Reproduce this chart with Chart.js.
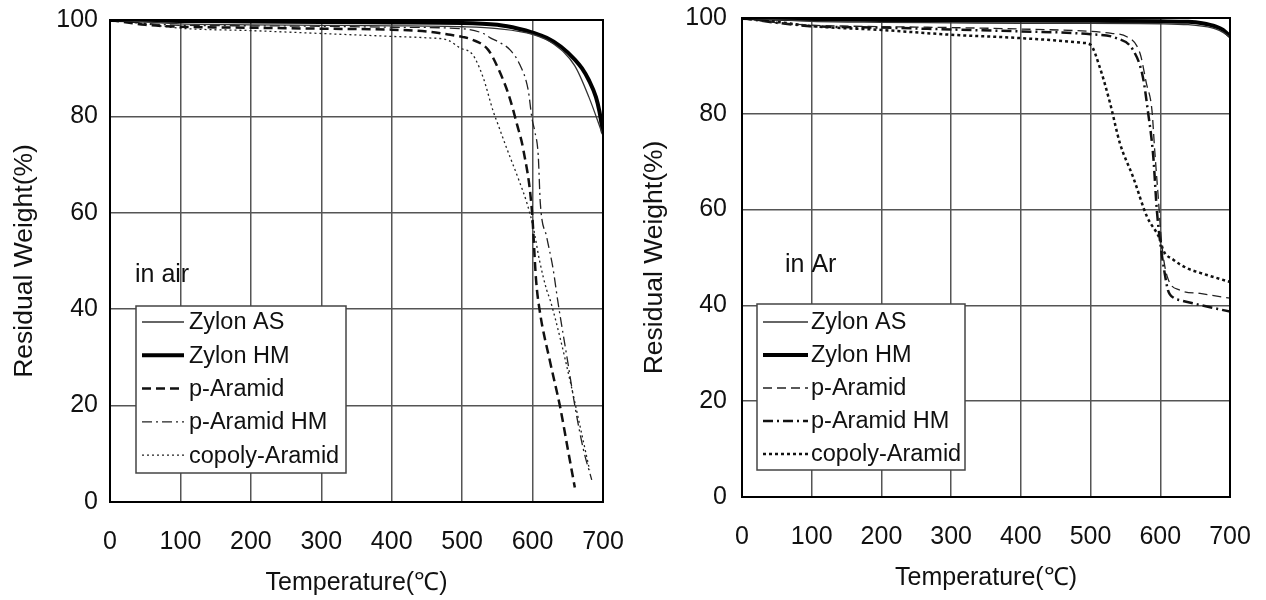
<!DOCTYPE html>
<html>
<head>
<meta charset="utf-8">
<script src="https://cdn.jsdelivr.net/npm/chart.js@4.4.0/dist/chart.umd.min.js"></script>
<style>
  html, body { margin: 0; padding: 0; background: #fff; }
  .wrap { position: absolute; top: 0; width: 633px; height: 600px; }
</style>
</head>
<body>
<div class="wrap" style="left:0"><canvas id="airChart" width="633" height="600"></canvas></div>
<div class="wrap" style="left:633px"><canvas id="arChart" width="633" height="600"></canvas></div>
<script>
const tempTicks = [0, 100, 200, 300, 400, 500, 600, 700];
const weightTicks = [0, 20, 40, 60, 80, 100];
const seriesNames = ['Zylon AS', 'Zylon HM', 'p-Aramid', 'p-Aramid HM', 'copoly-Aramid'];

// in air
const airZylonAS_T = [0, 50, 100, 200, 300, 400, 500, 550, 600, 630, 660, 680, 700];
const airZylonAS_W = [100, 99.6, 99.2, 99, 98.9, 98.8, 98.6, 98.2, 97, 95, 90.5, 84, 76];
const airZylonHM_T = [0, 100, 200, 300, 400, 500, 550, 580, 600, 620, 640, 660, 670, 680, 690, 695, 700];
const airZylonHM_W = [100, 99.8, 99.7, 99.6, 99.5, 99.4, 99, 98.2, 97.4, 96.3, 94.5, 91.8, 90, 87.5, 84, 81, 76.5];
const airPAramid_T = [0, 50, 100, 200, 300, 400, 450, 480, 500, 515, 537, 551, 566, 578, 587, 599, 605, 610, 625, 639, 650, 660];
const airPAramid_W = [100, 99, 98.6, 98.4, 98.2, 98, 97.6, 97, 96.5, 95.9, 93.8, 90, 84.5, 78.3, 73, 60.6, 46, 39.8, 29, 19.8, 11, 3];
const airPAramidHM_T = [0, 50, 100, 200, 300, 400, 500, 530, 540, 555, 568, 582, 594, 599, 603, 608, 611, 620, 629, 636, 650, 660, 672, 684];
const airPAramidHM_W = [100, 99.3, 98.9, 98.8, 98.7, 98.5, 98.2, 97.2, 96.3, 95.2, 93.8, 90.7, 85.3, 79.7, 77, 72, 62, 55, 48.5, 41.5, 29, 20, 11, 4.6];
const airCopoly_T = [0, 50, 100, 200, 300, 400, 450, 480, 497, 515, 530, 544, 551, 563, 580, 592, 601, 610, 620, 625, 640, 653, 667, 681];
const airCopoly_W = [100, 99.2, 98.3, 97.8, 97.2, 96.6, 96.3, 95.8, 94.2, 92.8, 88, 81.1, 78.3, 73.5, 67, 62, 57, 50, 44, 41.9, 33.5, 25.3, 16, 6.6];

// in Ar
const arZylonAS_T = [0, 100, 200, 300, 400, 500, 600, 640, 660, 680, 690, 700];
const arZylonAS_W = [100, 99.3, 99.1, 99, 98.9, 98.9, 98.8, 98.6, 98.3, 97.7, 97, 96];
const arZylonHM_T = [0, 100, 200, 300, 400, 500, 600, 640, 660, 680, 690, 700];
const arZylonHM_W = [100, 99.7, 99.6, 99.5, 99.5, 99.4, 99.3, 99.2, 98.9, 98.2, 97.5, 96.2];
const arPAramid_T = [0, 50, 100, 200, 300, 400, 500, 530, 552, 571, 580, 588, 592, 597, 602, 610, 628, 657, 700];
const arPAramid_W = [100, 99, 98.5, 98.2, 98, 97.7, 97.2, 96.8, 96.1, 92.6, 86.4, 80.8, 72.4, 62.7, 53, 46, 43.2, 42.5, 41.5];
const arPAramidHM_T = [0, 50, 100, 200, 300, 400, 500, 537, 561, 575, 582, 590, 595, 600, 606, 611, 620, 628, 657, 700];
const arPAramidHM_W = [100, 99, 98.3, 98, 97.6, 97.2, 96.6, 95.8, 93.3, 87.7, 80.8, 71, 60, 53, 47, 43.2, 41.5, 41.1, 40.1, 38.7];
const arCopoly_T = [0, 50, 100, 200, 300, 400, 490, 500, 513, 528, 542, 561, 581, 600, 604, 619, 638, 657, 700];
const arCopoly_W = [100, 99.2, 98.3, 97.5, 96.5, 95.8, 94.8, 94.4, 89.8, 82.2, 73.9, 66.8, 58.5, 53.6, 51.6, 49.5, 47.8, 46.8, 44.9];

const FONT = '"Liberation Sans", Arial, sans-serif';
const INK = '#111';

const pts = (t, w) => t.map((x, i) => ({ x: x, y: w[i] }));

// frame, note text and the boxed legend inside the plot
const insetLegend = {
  id: 'insetLegend',
  afterDatasetsDraw(chart, args, opts) {
    const { ctx, chartArea: a } = chart;
    ctx.save();
    ctx.strokeStyle = '#000';
    ctx.lineWidth = 2;
    ctx.strokeRect(a.left, a.top, a.right - a.left, a.bottom - a.top);

    ctx.font = '25px ' + FONT;
    ctx.fillStyle = INK;
    ctx.textBaseline = 'middle';
    ctx.fillText(opts.note, a.left + opts.noteX, a.top + opts.noteY);

    const bx = a.left + opts.x, by = a.top + opts.y;
    ctx.fillStyle = '#fff';
    ctx.fillRect(bx, by, opts.w, opts.h);
    ctx.strokeStyle = '#444';
    ctx.lineWidth = 1.5;
    ctx.strokeRect(bx, by, opts.w, opts.h);

    ctx.font = '23.5px ' + FONT;
    chart.data.datasets.forEach((ds, i) => {
      const y = by + opts.firstRow + i * opts.rowGap;
      ctx.beginPath();
      ctx.setLineDash(ds.borderDash || []);
      ctx.lineWidth = ds.borderWidth;
      ctx.strokeStyle = ds.borderColor;
      ctx.moveTo(bx + opts.sampleX, y);
      ctx.lineTo(bx + opts.sampleX + opts.sampleW, y);
      ctx.stroke();
      ctx.setLineDash([]);
      ctx.fillStyle = INK;
      ctx.fillText(ds.label, bx + opts.textX, y + 1);
    });
    ctx.restore();
  }
};

function makeChart(id, series, styles, box, dims) {
  const datasets = series.map((s, i) => ({
    label: seriesNames[i],
    data: pts(s[0], s[1]),
    borderColor: styles[i].color,
    borderWidth: styles[i].width,
    borderDash: styles[i].dash,
    pointRadius: 0,
    cubicInterpolationMode: 'monotone',
    fill: false
  }));
  return new Chart(document.getElementById(id), {
    type: 'line',
    data: { datasets },
    plugins: [insetLegend],
    options: {
      responsive: false,
      animation: false,
      devicePixelRatio: 1,
      layout: { padding: { top: dims.top, right: dims.right, left: 0, bottom: 0 } },
      plugins: {
        legend: { display: false },
        tooltip: { enabled: false },
        insetLegend: box
      },
      scales: {
        x: {
          type: 'linear', min: 0, max: 700,
          afterBuildTicks: s => { s.ticks = tempTicks.map(v => ({ value: v })); },
          afterFit: s => { s.height = dims.xHeight; s.paddingLeft = 0; s.paddingRight = 0; },
          ticks: { color: INK, font: { family: FONT, size: 25 }, padding: dims.xTickPad, autoSkip: false, maxRotation: 0 },
          grid: { color: '#555', lineWidth: 1.5, drawTicks: false },
          border: { display: false },
          title: { display: true, text: 'Temperature(℃)', color: INK, font: { family: FONT, size: 25 }, padding: { top: 0, bottom: dims.xTitlePad } }
        },
        y: {
          min: 0, max: 100,
          afterBuildTicks: s => { s.ticks = weightTicks.map(v => ({ value: v })); },
          afterFit: s => { s.width = dims.yWidth; s.paddingTop = 0; s.paddingBottom = 0; },
          ticks: { color: INK, font: { family: FONT, size: 25 }, padding: dims.yTickPad },
          grid: { color: '#555', lineWidth: 1.5, drawTicks: false },
          border: { display: false },
          title: { display: true, text: 'Residual Weight(%)', color: INK, font: { family: FONT, size: 26.5 }, padding: { top: dims.yTitlePad, bottom: 0 } }
        }
      }
    }
  });
}

makeChart('airChart',
  [[airZylonAS_T, airZylonAS_W], [airZylonHM_T, airZylonHM_W], [airPAramid_T, airPAramid_W],
   [airPAramidHM_T, airPAramidHM_W], [airCopoly_T, airCopoly_W]],
  [
    { color: '#333', width: 1.3, dash: [] },
    { color: '#000', width: 4, dash: [] },
    { color: '#111', width: 2.5, dash: [9, 5] },
    { color: '#222', width: 1.3, dash: [10, 4, 2, 4] },
    { color: '#222', width: 1.3, dash: [2, 3] }
  ],
  { note: 'in air', noteX: 25, noteY: 255, x: 26, y: 286, w: 210, h: 167,
    firstRow: 16, rowGap: 33.3, sampleX: 6, sampleW: 42, textX: 53 },
  { top: 20, right: 30, xHeight: 98, xTickPad: 25, xTitlePad: 2, yWidth: 110, yTickPad: 12, yTitlePad: 9 }
);

makeChart('arChart',
  [[arZylonAS_T, arZylonAS_W], [arZylonHM_T, arZylonHM_W], [arPAramid_T, arPAramid_W],
   [arPAramidHM_T, arPAramidHM_W], [arCopoly_T, arCopoly_W]],
  [
    { color: '#333', width: 1.3, dash: [] },
    { color: '#000', width: 4, dash: [] },
    { color: '#222', width: 1.3, dash: [9, 5] },
    { color: '#111', width: 2.5, dash: [10, 4, 2, 4] },
    { color: '#111', width: 2.5, dash: [3, 3] }
  ],
  { note: 'in Ar', noteX: 43, noteY: 247, x: 15, y: 286, w: 208, h: 166,
    firstRow: 18, rowGap: 33, sampleX: 6, sampleW: 45, textX: 54 },
  { top: 18, right: 36, xHeight: 103, xTickPad: 25, xTitlePad: 7, yWidth: 109, yTickPad: 15, yTitlePad: 6 }
);
</script>
</body>
</html>
